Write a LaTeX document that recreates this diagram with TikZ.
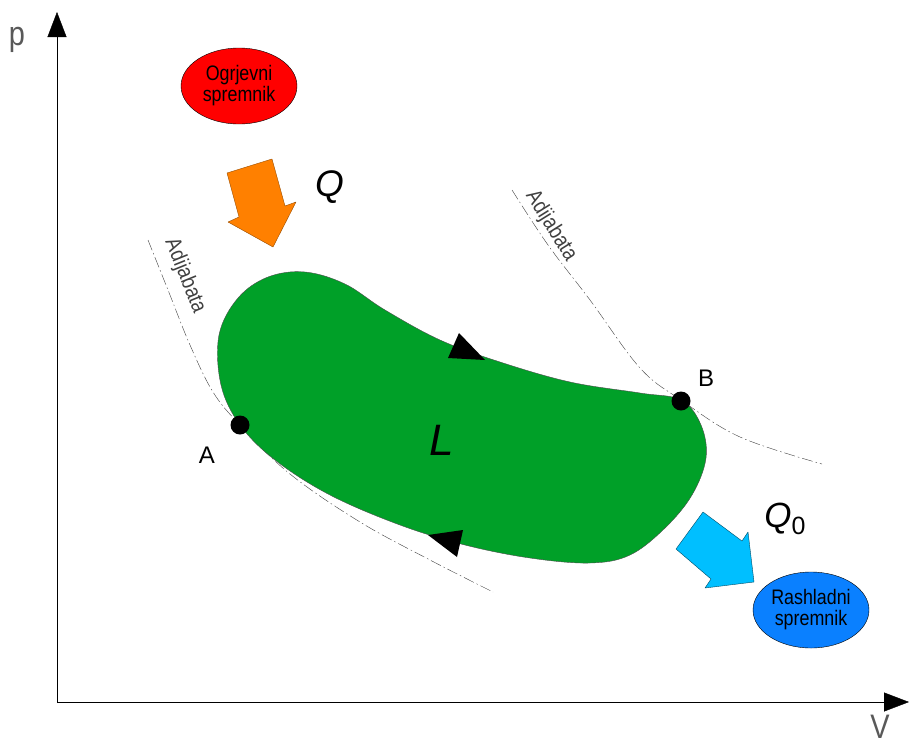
\documentclass[tikz,border=0pt]{standalone}
\usepackage{fontspec}
\setsansfont{Liberation Sans}
\newfontfamily\cadfont[FakeStretch=0.85]{Liberation Sans}
\usetikzlibrary{arrows.meta,shapes.geometric}
\definecolor{ogrjevni}{RGB}{255,0,0}
\definecolor{rashladni}{RGB}{10,128,255}
\definecolor{toplina}{RGB}{255,128,0}
\definecolor{odvod}{RGB}{0,191,255}
\definecolor{rad}{RGB}{0,160,40}
\begin{document}
\begin{tikzpicture}[x=1pt,y=-1pt,>={Triangle[length=25pt,width=19pt]},line join=round,
	spremnik/.style={draw=black,thin,ellipse,minimum width=116pt,minimum height=76pt,inner sep=0pt,align=center,font=\cadfont\fontsize{21}{21}\selectfont},
	adijabata/.style={black!75,thin,dash pattern=on 11pt off 3pt on 1.5pt off 3pt},
	natpis/.style={font=\cadfont\fontsize{22}{22}\selectfont,text=black!75},
	oznaka/.style={font=\cadfont\fontsize{34}{34}\selectfont,text=gray!70!black},
	tocka/.style={circle,fill=black,minimum size=19pt,inner sep=0pt},
	slovo/.style={font=\sffamily\fontsize{24}{24}\selectfont}]
	\useasboundingbox (0,0) rectangle (909,747);
	% osi
	\draw[->] (57,703) -- (57,12);
	\draw[->] (57,702) -- (909,702);
	\node[oznaka] (p) at (17,40) {p};
	\node[oznaka] (V) at (880,727) {V};
	% adijabate
	\draw[adijabata] plot[smooth,tension=0.6] coordinates {(148,240) (168,290) (190,345) (213,392) (240,425) (290,474) (360,522) (430,560) (493,592)};
	\draw[adijabata] plot[smooth,tension=0.6] coordinates {(512,190) (548,245) (590,300) (640,368) (681,400) (740,437) (822,464)};
	\node[natpis,rotate=-68] (adA) at (185,276) {Adijabata};
	\node[natpis,rotate=-58] (adB) at (551,226) {Adijabata};
	% kruzni proces
	\filldraw[fill=rad,draw=black!70,thin] plot[smooth cycle,tension=0.6] coordinates {(240,425) (221,385) (219,335) (238,298) (268,277) (305,272) (345,284) (385,310) (440,340) (500,362) (570,382) (640,393) (681,400) (701,425) (706,458) (692,495) (665,528) (630,555) (590,563) (530,558) (465,545) (400,525) (330,495) (275,460)};
	\fill (448,358) -- (459,333) -- (485,360) -- cycle;
	\fill (428,535) -- (463,530) -- (457,557) -- cycle;
	\node[tocka] (A) at (240,425) {};
	\node[tocka] (B) at (681,401) {};
	\node[slovo] (lA) at (207,455) {A};
	\node[slovo] (lB) at (706,378) {B};
	\node[font=\sffamily\itshape\fontsize{44}{44}\selectfont] (L) at (442,440) {L};
	% toplina
	\node[spremnik,fill=ogrjevni] (ogrjevni) at (239,86) {Ogrjevni\\spremnik};
	\filldraw[fill=toplina,draw=toplina!60!black,thin] (227,173) -- (272,159) -- (285,206) -- (296,202) -- (273,247) -- (228,222) -- (239,217) -- cycle;
	\node[font=\sffamily\itshape\fontsize{37}{37}\selectfont] (Q) at (330,187) {Q};
	\node[spremnik,fill=rashladni] (rashladni) at (811,610) {Rashladni\\spremnik};
	\filldraw[fill=odvod,draw=odvod!40!black,thin] (703,512) -- (742,541) -- (748,532) -- (754,582) -- (705,588) -- (711,579) -- (676,549) -- cycle;
	\node[font=\sffamily\fontsize{35}{35}\selectfont] (Q0) at (785,519) {\textit{Q}\raisebox{-7pt}{\fontsize{25}{25}\selectfont 0}};
\end{tikzpicture}
\end{document}
